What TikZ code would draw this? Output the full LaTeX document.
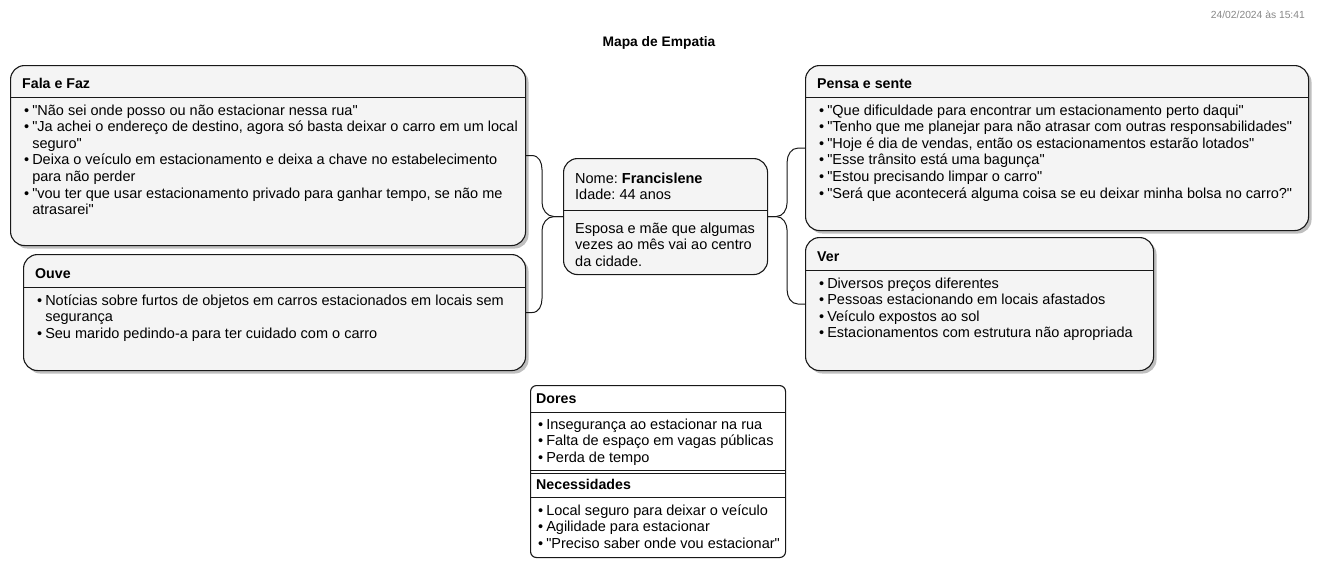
\documentclass[tikz,border=0pt]{standalone}
\usepackage{fontspec}
\setmainfont{Liberation Sans}[Ligatures=TeXOff]
\usetikzlibrary{shadows}
\definecolor{boxfill}{HTML}{F4F4F4}
\definecolor{linec}{HTML}{181818}
\definecolor{dategray}{HTML}{888888}
\frenchspacing
\begin{document}
\frenchspacing
\begin{tikzpicture}[x=1pt,y=-1pt,
  box/.style={draw=linec, fill=boxfill, line width=1.1pt, rounded corners=14pt, inner sep=0pt,
    drop shadow={shadow xshift=3pt, shadow yshift=-3pt, fill=black, opacity=0.25}},
  plainbox/.style={draw=linec, fill=boxfill, line width=1.1pt, rounded corners=14pt, inner sep=0pt},
  smallbox/.style={draw=linec, fill=white, line width=1.1pt, rounded corners=6pt, inner sep=0pt},
  sep/.style={draw=linec, line width=1pt},
  conn/.style={draw=linec, line width=1pt},
  txt/.style={inner sep=0pt, anchor=base west, font=\fontsize{14.5}{16.6}\selectfont\frenchspacing, align=left},
  ttl/.style={inner sep=0pt, anchor=base west, font=\fontsize{14.2}{16.6}\selectfont\bfseries}
]
\useasboundingbox (0,0) rectangle (1319,581);
\fill[white] (0,0) rectangle (1319,581);

% header
\node[inner sep=0pt, anchor=base east, text=dategray, font=\fontsize{10.3}{12}\selectfont] (date) at (1305,18) {24/02/2024 às 15:41};
\node[inner sep=0pt, anchor=base, font=\fontsize{13.8}{16}\selectfont\bfseries] (title) at (659,46) {Mapa de Empatia};

% boxes
\node[box, anchor=north west, minimum width=515pt, minimum height=180pt] (fala) at (10,65) {};
\node[box, anchor=north west, minimum width=502pt, minimum height=116pt] (ouve) at (23,254) {};
\node[plainbox, anchor=north west, minimum width=204pt, minimum height=116pt] (center) at (563,158) {};
\node[box, anchor=north west, minimum width=503pt, minimum height=165pt] (pensa) at (805,65) {};
\node[box, anchor=north west, minimum width=348pt, minimum height=133pt] (ver) at (805,237) {};
\node[smallbox, anchor=north west, minimum width=255pt, minimum height=172pt] (dores) at (530,385) {};

% dividers
\draw[sep] (fala.west |- 0,97) -- (fala.east |- 0,97);
\draw[sep] (ouve.west |- 0,287) -- (ouve.east |- 0,287);
\draw[sep] (center.west |- 0,210) -- (center.east |- 0,210);
\draw[sep] (pensa.west |- 0,97) -- (pensa.east |- 0,97);
\draw[sep] (ver.west |- 0,270) -- (ver.east |- 0,270);
\draw[sep] (dores.west |- 0,412) -- (dores.east |- 0,412);
\draw[sep] (dores.west |- 0,470) -- (dores.east |- 0,470);
\draw[sep] (dores.west |- 0,473.5) -- (dores.east |- 0,473.5);
\draw[sep] (dores.west |- 0,497) -- (dores.east |- 0,497);

% connectors
\draw[conn] (center.west) -- ++(-9,0) .. controls +(-7,0) and +(0,7) .. ++(-12,-14) -- ++(0,-33) .. controls +(0,-7) and +(7,0) .. ++(-10,-14) -- (fala.east);
\draw[conn] (center.west) -- ++(-9,0) .. controls +(-7,0) and +(0,-7) .. ++(-12,14) -- ++(0,68) .. controls +(0,7) and +(7,0) .. ++(-10,14) -- (ouve.east);
\draw[conn] (center.east) -- ++(8,0) .. controls +(7,0) and +(0,7) .. ++(11,-14) -- ++(0,-40.5) .. controls +(0,-7) and +(-7,0) .. ++(11,-14) -- (pensa.west);
\draw[conn] (center.east) -- ++(8,0) .. controls +(7,0) and +(0,-7) .. ++(11,14) -- ++(0,59.5) .. controls +(0,7) and +(-7,0) .. ++(11,14) -- (ver.west);

% Fala e Faz
\node[ttl] (falat) at (22,88) {Fala e Faz};
\node[txt] (falai) at (24,115) {\begin{tabular}[t]{@{}l@{\hspace{3pt}}l@{}}
• & "Não sei onde posso ou não estacionar nessa rua"\\
• & "Ja achei o endereço de destino, agora só basta deixar o carro em um local\\
  & seguro"\\
• & Deixa o veículo em estacionamento e deixa a chave no estabelecimento\\
  & para não perder\\
• & "vou ter que usar estacionamento privado para ganhar tempo, se não me\\
  & atrasarei"
\end{tabular}};

% Ouve
\node[ttl] (ouvet) at (35,278) {Ouve};
\node[txt] (ouvei) at (37,305) {\begin{tabular}[t]{@{}l@{\hspace{3pt}}l@{}}
• & Notícias sobre furtos de objetos em carros estacionados em locais sem\\
  & segurança\\
• & Seu marido pedindo-a para ter cuidado com o carro
\end{tabular}};

% center
\node[txt] (nome) at (575,183) {\begin{tabular}[t]{@{}l@{}}
Nome:\ \textbf{Francislene}\\
Idade:\ 44 anos
\end{tabular}};
\node[txt] (desc) at (575,233) {\begin{tabular}[t]{@{}l@{}}
Esposa e mãe que algumas\\
vezes ao mês vai ao centro\\
da cidade.
\end{tabular}};

% Pensa e sente
\node[ttl] (pensat) at (817,88) {Pensa e sente};
\node[txt] (pensai) at (819,115) {\begin{tabular}[t]{@{}l@{\hspace{3pt}}l@{}}
• & "Que dificuldade para encontrar um estacionamento perto daqui"\\
• & "Tenho que me planejar para não atrasar com outras responsabilidades"\\
• & "Hoje é dia de vendas, então os estacionamentos estarão lotados"\\
• & "Esse trânsito está uma bagunça"\\
• & "Estou precisando limpar o carro"\\
• & "Será que acontecerá alguma coisa se eu deixar minha bolsa no carro?"
\end{tabular}};

% Ver
\node[ttl] (vert) at (817,261) {Ver};
\node[txt] (veri) at (819,288) {\begin{tabular}[t]{@{}l@{\hspace{3pt}}l@{}}
• & Diversos preços diferentes\\
• & Pessoas estacionando em locais afastados\\
• & Veículo expostos ao sol\\
• & Estacionamentos com estrutura não apropriada
\end{tabular}};

% Dores / Necessidades
\node[ttl] (dorest) at (536,403) {Dores};
\node[txt] (doresi) at (538,429) {\begin{tabular}[t]{@{}l@{\hspace{3pt}}l@{}}
• & Insegurança ao estacionar na rua\\
• & Falta de espaço em vagas públicas\\
• & Perda de tempo
\end{tabular}};
\node[ttl] (necet) at (536,489) {Necessidades};
\node[txt] (necei) at (538,515) {\begin{tabular}[t]{@{}l@{\hspace{3pt}}l@{}}
• & Local seguro para deixar o veículo\\
• & Agilidade para estacionar\\
• & "Preciso saber onde vou estacionar"
\end{tabular}};
\end{tikzpicture}
\end{document}
